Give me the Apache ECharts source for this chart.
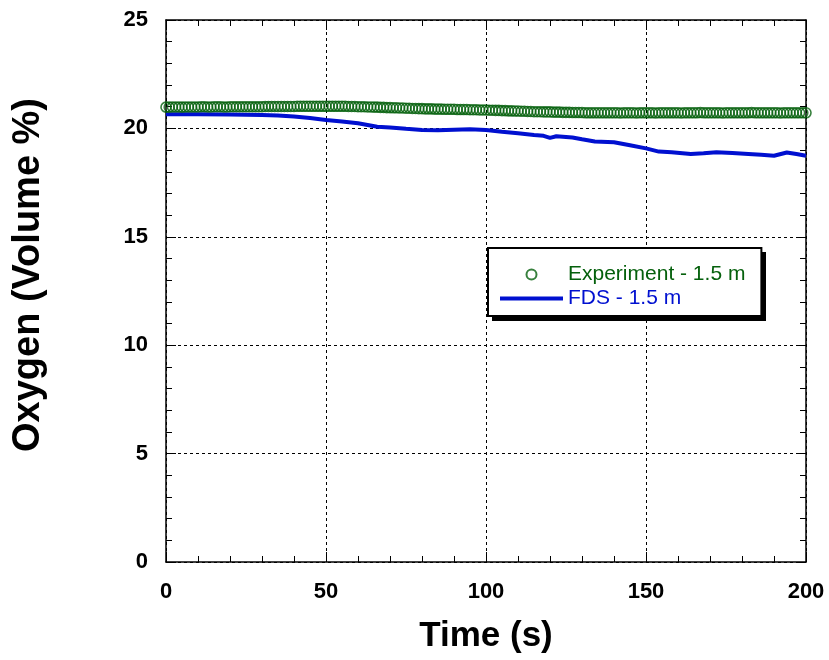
<!DOCTYPE html>
<html><head><meta charset="utf-8">
<script src="https://cdn.jsdelivr.net/npm/echarts@6/dist/echarts.min.js"></script>
<style>html,body{margin:0;padding:0;background:#fff}#c{width:829px;height:660px}</style>
</head><body><div id="c"></div>
<script>
// Experiment - 1.5 m, one sample per second, t = 0..200 s
const expStart = 0;
const expValues = [
20.98,20.98,20.99,20.99,20.99,20.98,20.99,20.99,20.99,20.99,
20.99,21.00,21.00,20.99,20.99,21.00,21.00,21.00,20.99,20.99,
21.00,21.00,21.00,21.00,21.00,21.00,21.00,21.00,21.00,21.00,
21.00,21.01,21.01,21.01,21.01,21.01,21.01,21.01,21.01,21.01,
21.01,21.02,21.02,21.02,21.02,21.02,21.02,21.02,21.02,21.02,
21.02,21.02,21.02,21.02,21.02,21.02,21.02,21.01,21.01,21.01,
21.00,21.00,21.00,20.99,20.99,20.98,20.98,20.97,20.97,20.96,
20.96,20.95,20.95,20.94,20.94,20.93,20.93,20.92,20.92,20.91,
20.91,20.90,20.90,20.90,20.89,20.89,20.89,20.88,20.88,20.88,
20.88,20.87,20.87,20.87,20.87,20.86,20.86,20.86,20.85,20.85,
20.85,20.84,20.84,20.83,20.83,20.82,20.82,20.81,20.81,20.80,
20.80,20.79,20.79,20.78,20.78,20.77,20.77,20.77,20.76,20.76,
20.76,20.75,20.75,20.75,20.74,20.74,20.74,20.73,20.73,20.73,
20.73,20.72,20.72,20.72,20.72,20.72,20.72,20.72,20.72,20.72,
20.72,20.72,20.71,20.72,20.72,20.72,20.72,20.71,20.72,20.72,
20.72,20.72,20.72,20.71,20.72,20.72,20.72,20.72,20.72,20.72,
20.72,20.71,20.72,20.72,20.72,20.72,20.72,20.73,20.72,20.72,
20.72,20.72,20.72,20.72,20.71,20.72,20.72,20.72,20.72,20.72,
20.72,20.72,20.72,20.73,20.72,20.72,20.72,20.72,20.72,20.72,
20.72,20.72,20.71,20.72,20.72,20.72,20.72,20.72,20.72,20.72,
20.72
];
// FDS - 1.5 m
const fdsTimes = [0,10,20,30,35,40,45,50,55,60,63,66,70,75,80,85,90,95,100,105,110,115,118,120,122,127,130,134,140,145,150,154,158,164,168,172,177,182,186,190,194,197,200];
const fdsValues = [20.65,20.65,20.64,20.62,20.60,20.55,20.48,20.39,20.32,20.24,20.16,20.08,20.04,19.98,19.93,19.92,19.94,19.96,19.93,19.85,19.78,19.70,19.66,19.56,19.64,19.58,19.50,19.40,19.36,19.22,19.08,18.93,18.90,18.82,18.85,18.90,18.86,18.82,18.78,18.74,18.89,18.82,18.74];
const xTicks = [0,50,100,150,200];
const yTicks = [0,5,10,15,20,25];
const seriesNames = ['Experiment - 1.5 m','FDS - 1.5 m'];
const xTitle = 'Time (s)';
const yTitle = 'Oxygen (Volume %)';

const GREEN = '#05600c', BLUE = '#0010d0';
const FONT = 'Liberation Sans, Arial, sans-serif';

const expData = expValues.map((v,i)=>[expStart+i, v]);
const fdsData = fdsTimes.map((t,i)=>[t, fdsValues[i]]);

function xAx(pos, labels){
  return {type:'value', position:pos, min:xTicks[0], max:xTicks[xTicks.length-1], interval:50,
    axisLine:{show:true,onZero:false,lineStyle:{color:'#000',width:1.5}},
    axisTick:{show:true,inside:true,length:10,lineStyle:{color:'#000',width:1}},
    minorTick:{show:true,splitNumber:5,length:6,lineStyle:{color:'#000',width:1}},
    splitLine:{show:labels,lineStyle:{color:'#000',type:[3,3],width:1}},
    axisLabel:{show:labels,margin:19,fontSize:22,fontWeight:'bold',color:'#000',fontFamily:FONT}};
}
function yAx(pos, labels){
  return {type:'value', position:pos, min:yTicks[0], max:yTicks[yTicks.length-1], interval:5,
    axisLine:{show:true,onZero:false,lineStyle:{color:'#000',width:1.5}},
    axisTick:{show:true,inside:true,length:10,lineStyle:{color:'#000',width:1}},
    minorTick:{show:true,splitNumber:5,length:6,lineStyle:{color:'#000',width:1}},
    splitLine:{show:labels,lineStyle:{color:'#000',type:[3,3],width:1}},
    axisLabel:{show:labels,margin:18,fontSize:22,fontWeight:'bold',color:'#000',fontFamily:FONT}};
}

const chart = echarts.init(document.getElementById('c'), null, {renderer:'canvas'});
chart.setOption({
  animation:false,
  backgroundColor:'#fff',
  grid:{left:166, top:20, width:640, height:542},
  xAxis:[xAx('bottom',true), xAx('top',false)],
  yAxis:[yAx('left',true), yAx('right',false)],
  legend:{
    left:488, top:248, orient:'vertical', z:10,
    padding:[16,16,7,12], itemGap:3, itemWidth:63, itemHeight:10,
    backgroundColor:'#fff', borderColor:'#000', borderWidth:2, borderRadius:0,
    textStyle:{fontSize:21, fontFamily:FONT},
    data:[{name:seriesNames[0], textStyle:{color:GREEN}},
          {name:seriesNames[1], textStyle:{color:BLUE}, icon:'path://M0,0L63,0L63,4L0,4Z', itemStyle:{color:BLUE}}]
  },
  graphic:[
    {type:'rect', z:5, shape:{x:492, y:252, width:274, height:69}, style:{fill:'#000'}},
    {type:'text', z:5, style:{text:xTitle, font:'bold 35px '+FONT, fill:'#000', textAlign:'center', textVerticalAlign:'middle'}, x:486, y:636},
    {type:'text', z:5, style:{text:yTitle, font:'bold 38px '+FONT, fill:'#000', textAlign:'center', textVerticalAlign:'middle'}, x:29, y:275, rotation:Math.PI/2}
  ],
  series:[
    {name:seriesNames[0], type:'scatter', data:expData, symbol:'circle', symbolSize:10,
      itemStyle:{color:'rgba(255,255,255,0)', borderColor:GREEN, borderWidth:1.6}, z:3},
    {name:seriesNames[1], type:'line', data:fdsData, symbol:'none', smooth:false,
      lineStyle:{color:BLUE, width:4}, itemStyle:{color:BLUE}, z:2}
  ]
});
</script></body></html>
